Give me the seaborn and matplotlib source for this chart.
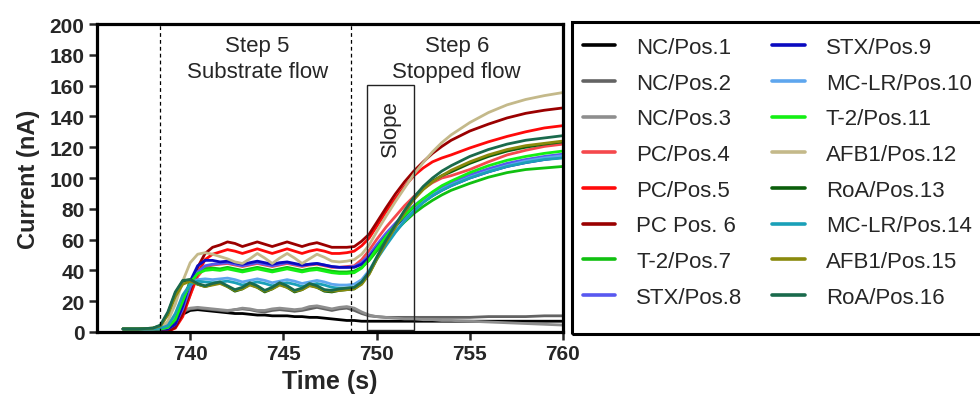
import pandas as pd
import matplotlib
matplotlib.use("Agg")
import matplotlib.pyplot as plt
from matplotlib.patches import Rectangle
import seaborn as sns

# Thoi gian (s) - luoi chung cho tat ca cac kenh
TIME = [736.4, 737.2, 738.0, 738.4, 738.8, 739.2, 739.6, 740.0, 740.4, 740.8,
        741.2, 741.6, 742.0, 742.4, 742.8, 743.2, 743.6, 744.0, 744.4, 744.8,
        745.2, 745.6, 746.0, 746.4, 746.8, 747.2, 747.6, 748.0, 748.4, 748.8,
        749.2, 749.6, 750.0, 750.5, 751.0, 751.5, 752.0, 752.5, 753.0, 753.5,
        754.0, 755.0, 756.0, 757.0, 758.0, 759.0, 760.0]

nc1 = [2.0, 2.0, 2.0, 2.0, 3.0, 7.0, 11.5, 14.0, 14.5, 14.0,
       13.5, 13.0, 12.5, 12.0, 12.0, 11.5, 11.0, 11.0, 10.5, 10.5,
       10.5, 10.0, 10.0, 9.5, 9.5, 9.0, 8.5, 8.0, 7.5, 7.5,
       7.0, 7.0, 7.0, 7.0, 7.0, 7.0, 7.0, 7.0, 7.0, 7.0,
       7.0, 7.0, 7.0, 7.0, 7.0, 7.0, 7.0]
nc2 = [2.0, 2.0, 2.0, 2.5, 4.0, 9.0, 13.0, 15.0, 15.5, 15.0,
       14.5, 14.0, 13.5, 14.5, 15.0, 14.5, 13.5, 13.0, 14.0, 14.5,
       14.0, 13.5, 14.0, 15.0, 16.0, 15.0, 14.0, 15.0, 15.5, 14.0,
       12.0, 10.5, 10.0, 9.5, 9.5, 9.5, 9.5, 9.5, 9.5, 9.5,
       9.5, 9.5, 10.0, 10.0, 10.0, 10.5, 10.5]
nc3 = [2.0, 2.0, 2.0, 2.5, 4.5, 10.0, 14.0, 15.5, 16.0, 15.5,
       15.0, 14.5, 14.0, 14.5, 15.5, 15.0, 14.0, 14.0, 15.0, 15.5,
       15.0, 14.5, 15.0, 16.5, 17.0, 16.0, 15.0, 16.0, 16.5, 15.5,
       13.0, 11.0, 10.0, 9.5, 9.0, 8.5, 8.5, 8.0, 8.0, 7.5,
       7.5, 7.0, 6.5, 6.0, 5.5, 5.0, 4.5]
pc4 = [2.0, 2.0, 2.0, 2.0, 0.5, 3.0, 12.0, 24.0, 36.0, 42.0,
       43.5, 44.0, 44.5, 43.5, 42.5, 43.5, 44.5, 43.5, 42.5, 43.5,
       44.5, 43.5, 42.5, 43.5, 44.0, 43.0, 42.0, 42.0, 42.5, 43.0,
       47.0, 53.0, 60.0, 68.0, 75.0, 82.0, 88.0, 93.0, 97.0, 100.0,
       101.5, 105.5, 110.5, 115.0, 118.0, 120.5, 122.0]
pc5 = [2.0, 2.0, 2.0, 1.5, 0.5, 2.5, 10.0, 24.0, 38.0, 47.0,
       50.5, 52.0, 53.5, 52.5, 51.0, 52.5, 54.0, 52.5, 51.0, 52.5,
       54.0, 52.5, 51.0, 52.5, 53.5, 52.5, 51.0, 51.0, 51.5, 52.5,
       56.0, 61.0, 68.5, 78.0, 86.5, 94.5, 101.5, 106.5, 110.5, 113.0,
       115.0, 119.5, 123.5, 127.0, 130.0, 132.5, 134.0]
pc6 = [2.0, 2.0, 2.0, 1.5, 0.5, 3.0, 12.0, 27.0, 42.0, 51.0,
       55.0, 56.5, 58.5, 57.5, 55.5, 57.0, 58.5, 57.0, 55.5, 57.0,
       58.5, 57.0, 55.5, 57.0, 58.0, 56.5, 55.0, 55.0, 55.0, 55.5,
       59.0, 63.5, 71.0, 80.5, 89.5, 97.5, 104.5, 110.5, 116.0, 120.5,
       124.5, 130.5, 135.0, 139.0, 142.0, 144.0, 145.5]
t2_7 = [2.0, 2.0, 2.0, 2.0, 3.0, 8.0, 20.0, 33.0, 39.0, 41.0,
        41.5, 41.0, 42.0, 41.0, 40.0, 41.0, 42.0, 41.0, 40.0, 41.0,
        42.0, 41.0, 40.0, 41.0, 41.5, 40.5, 39.5, 39.0, 39.0, 39.5,
        42.0, 46.5, 52.5, 59.5, 65.5, 71.5, 77.0, 81.5, 85.5, 89.0,
        92.0, 96.5, 100.5, 103.5, 105.5, 106.5, 107.5]
stx8 = [2.0, 2.0, 2.0, 2.0, 2.0, 5.0, 15.0, 29.0, 39.0, 43.0,
        44.0, 44.5, 45.0, 44.0, 43.0, 44.0, 45.0, 44.0, 43.0, 44.0,
        45.0, 44.0, 43.0, 44.0, 44.5, 43.5, 42.5, 42.0, 42.0, 42.5,
        45.0, 50.0, 56.5, 64.0, 70.5, 76.5, 82.0, 86.5, 90.5, 94.0,
        97.0, 102.0, 106.0, 109.5, 112.0, 114.0, 115.5]
stx9 = [2.0, 2.0, 2.0, 2.0, 2.0, 5.0, 17.0, 33.0, 43.0, 46.5,
        46.5, 45.5, 46.0, 45.0, 44.0, 45.0, 46.0, 45.0, 44.0, 45.0,
        45.5, 44.5, 43.5, 44.0, 44.5, 43.5, 42.5, 42.0, 42.0, 42.0,
        44.0, 48.5, 54.5, 62.0, 68.5, 74.5, 80.0, 84.5, 88.5, 92.0,
        95.0, 100.0, 104.0, 107.5, 110.0, 112.0, 113.5]
mclr10 = [2.0, 2.0, 2.0, 2.0, 3.0, 10.0, 22.0, 31.0, 34.0, 34.5,
          34.0, 34.5, 35.0, 34.0, 32.5, 33.5, 34.5, 33.5, 32.0, 33.0,
          34.0, 33.0, 31.5, 32.5, 33.5, 32.5, 31.0, 30.5, 30.5, 31.0,
          34.0, 40.0, 48.0, 57.0, 65.0, 72.5, 79.0, 84.5, 89.0, 92.5,
          95.5, 100.5, 104.5, 108.0, 111.0, 113.0, 114.5]
t2_11 = [2.0, 2.0, 2.0, 2.0, 3.0, 8.0, 20.0, 32.0, 38.0, 40.0,
         40.5, 40.0, 41.0, 40.0, 39.0, 40.0, 41.0, 40.0, 39.0, 40.0,
         41.0, 40.0, 39.0, 40.0, 40.5, 39.5, 38.5, 38.0, 38.0, 38.5,
         41.5, 47.0, 54.0, 62.0, 69.0, 75.5, 81.5, 86.5, 91.0, 95.0,
         98.0, 103.5, 108.0, 111.5, 114.0, 116.0, 117.5]
afb12 = [2.0, 2.0, 2.0, 2.5, 7.0, 18.0, 33.0, 45.0, 50.5, 51.5,
         50.5, 49.0, 47.5, 45.5, 44.5, 47.5, 51.0, 48.0, 44.5, 48.0,
         51.0, 48.0, 44.5, 47.5, 50.5, 48.5, 46.0, 45.5, 46.0, 47.0,
         50.5, 56.5, 65.0, 75.0, 84.5, 93.5, 102.5, 110.0, 117.0, 123.0,
         128.0, 136.0, 142.5, 147.5, 151.0, 153.5, 155.5]
roa13 = [2.0, 2.0, 2.5, 4.0, 12.0, 25.0, 33.0, 34.0, 31.0, 29.5,
         31.0, 32.0, 29.5, 26.5, 28.0, 31.0, 29.0, 26.0, 28.0, 31.0,
         29.0, 26.0, 27.5, 30.5, 29.0, 26.5, 26.0, 27.0, 27.5, 28.0,
         31.5, 38.0, 47.5, 58.5, 68.5, 78.0, 86.5, 93.0, 98.0, 101.5,
         104.0, 109.5, 114.0, 117.5, 120.0, 122.0, 123.5]
mclr14 = [2.0, 2.0, 2.0, 2.5, 4.0, 12.0, 24.0, 31.0, 33.0, 32.5,
          32.0, 32.5, 33.0, 32.0, 30.5, 31.5, 32.5, 31.5, 30.0, 31.0,
          32.0, 31.0, 29.5, 30.5, 31.5, 30.5, 29.0, 28.5, 28.5, 29.0,
          32.0, 38.5, 47.0, 56.0, 64.5, 72.0, 78.5, 84.0, 88.5, 92.0,
          95.0, 100.0, 104.0, 107.5, 110.0, 112.0, 113.0]
afb15 = [2.0, 2.0, 2.5, 4.0, 11.0, 23.0, 31.0, 33.0, 31.0, 29.5,
         30.5, 31.5, 29.5, 27.0, 28.0, 30.5, 29.0, 26.5, 28.0, 30.5,
         29.0, 26.5, 27.5, 30.0, 29.0, 27.0, 26.5, 27.0, 27.5, 28.0,
         31.0, 37.5, 47.0, 58.0, 68.0, 77.5, 86.0, 92.5, 97.5, 101.5,
         105.0, 110.5, 115.0, 118.5, 121.0, 122.5, 124.0]
roa16 = [2.0, 2.0, 2.5, 4.5, 13.0, 26.0, 33.5, 34.0, 31.5, 30.0,
         31.5, 32.5, 30.0, 27.5, 29.0, 32.0, 30.0, 27.0, 29.0, 32.0,
         30.0, 27.0, 28.5, 31.5, 30.0, 27.5, 27.0, 28.0, 28.5, 29.0,
         32.5, 39.0, 48.5, 59.5, 69.5, 79.0, 87.5, 94.5, 100.0, 104.5,
         108.0, 114.0, 118.5, 122.0, 124.5, 126.0, 127.5]

LABELS = ["NC/Pos.1", "NC/Pos.2", "NC/Pos.3", "PC/Pos.4", "PC/Pos.5", "PC Pos. 6",
          "T-2/Pos.7", "STX/Pos.8", "STX/Pos.9", "MC-LR/Pos.10", "T-2/Pos.11",
          "AFB1/Pos.12", "RoA/Pos.13", "MC-LR/Pos.14", "AFB1/Pos.15", "RoA/Pos.16"]
SERIES = [nc1, nc2, nc3, pc4, pc5, pc6, t2_7, stx8, stx9, mclr10, t2_11,
          afb12, roa13, mclr14, afb15, roa16]
COLORS = ["#000000", "#636363", "#8e8e8e", "#f5484c", "#ff0a0a", "#9a0000",
          "#10c010", "#5858f0", "#0a0ac0", "#5ea6ee", "#14f014",
          "#c4b98a", "#0b5e0b", "#1aa0b8", "#8a8a0c", "#1a6a4c"]


def main():
    rows = []
    for lab, vals in zip(LABELS, SERIES):
        for t, v in zip(TIME, vals):
            rows.append({"time": t, "current": v, "series": lab})
    df = pd.DataFrame(rows)

    sns.set_style("ticks")
    plt.rcParams["font.family"] = ["Liberation Sans", "DejaVu Sans"]

    fig = plt.figure(figsize=(9.8, 4.06), dpi=100)
    ax = fig.add_axes([97 / 980, 1 - 333 / 406, (563 - 97) / 980, (333 - 25) / 406])

    sns.lineplot(data=df, x="time", y="current", hue="series", hue_order=LABELS,
                 palette=dict(zip(LABELS, COLORS)), estimator=None, sort=False,
                 linewidth=2.0, ax=ax, legend=True)

    # vach chia cac buoc
    for xv in [738.4, 748.65]:
        ax.axvline(xv, color="black", linestyle=(0, (3, 2.5)), linewidth=0.9, zorder=5)
    ax.add_patch(Rectangle((749.5, 1.2), 2.5, 159, fill=False, edgecolor="#222222",
                           linewidth=1.0, zorder=6))

    ax.text(743.6, 177.5, "Step 5\nSubstrate flow", ha="center", va="center",
            fontsize=16, linespacing=1.3)
    ax.text(754.3, 177.5, "Step 6\nStopped flow", ha="center", va="center",
            fontsize=16, linespacing=1.3)
    ax.text(750.72, 133, "Slope", ha="center", va="center", rotation=90, fontsize=16)

    ax.set_xlim(735, 760)
    ax.set_ylim(0, 200)
    ax.set_xticks([740, 745, 750, 755, 760])
    ax.set_yticks(range(0, 201, 20))
    ax.set_xlabel("Time (s)", fontsize=18, fontweight="bold", labelpad=4)
    ax.set_ylabel("Current (nA)", fontsize=17, fontweight="bold", labelpad=7)
    ax.tick_params(axis="both", length=6, width=1.8, labelsize=15, pad=3)
    for lab in ax.get_xticklabels() + ax.get_yticklabels():
        lab.set_fontweight("bold")
    for sp in ax.spines.values():
        sp.set_linewidth(2.3)
        sp.set_color("black")

    handles, labels = ax.get_legend_handles_labels()
    ax.get_legend().remove()
    for h in handles:
        h.set_linewidth(2.6)
    fig.legend(handles, labels, loc="upper left", bbox_to_anchor=(583 / 980, 1 - 38 / 406),
               ncol=2, frameon=False, fontsize=16, borderpad=0, borderaxespad=0,
               handlelength=1.45, handletextpad=0.95, columnspacing=1.34, labelspacing=0.66)
    # khung legend keo ra ngoai mep phai
    fig.patches.append(Rectangle((572 / 980, 1 - 335 / 406), 420 / 980, 312 / 406,
                                 transform=fig.transFigure, fill=False,
                                 edgecolor="black", linewidth=2.2))

    fig.savefig("out.png", dpi=100)


if __name__ == "__main__":
    main()
